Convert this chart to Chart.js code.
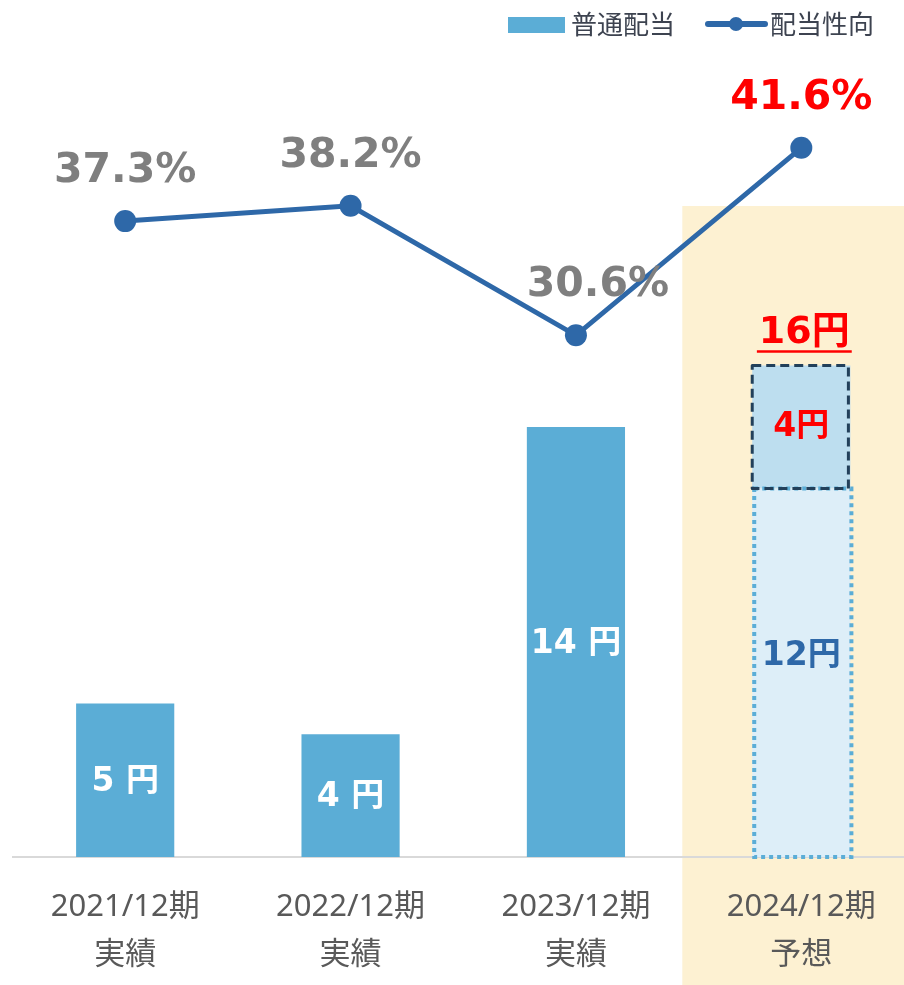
<!DOCTYPE html>
<html><head><meta charset="utf-8">
<script src="https://cdn.jsdelivr.net/npm/chart.js@4"></script>
<style>html,body{margin:0;padding:0;background:#fff;overflow:hidden;width:904px;height:985px}</style>
</head><body>
<canvas id="c" width="925" height="985"></canvas>
<script>
const categories = [["2021/12期","実績"],["2022/12期","実績"],["2023/12期","実績"],["2024/12期","予想"]];
const dividendActual = [5, 4, 14, null];
const dividendForecastBase = [null, null, null, 12];
const dividendForecastAdd = [null, null, null, 4];
const payoutRatio = [37.3, 38.2, 30.6, 41.6];
const barLabels = ["5 円", "4 円", "14 円", "12円"];
const addLabel = "4円";
const totalLabel = "16円";
const payoutLabels = payoutRatio.map(v => v.toFixed(1) + "%");
const legendLabels = ["普通配当", "配当性向"];

const BLUE = '#5BADD6', LINE = '#2E68A8', RED = '#FF0000', GRAY = '#7F7F7F';
const NUMFONT = '"DejaVu Sans","Noto Sans CJK JP",sans-serif';
const JPFONT = '"Noto Sans CJK JP","Noto Sans",sans-serif';

const deco = {
  id: 'deco',
  beforeDraw(chart) {
    const {ctx, scales: {x}} = chart;
    ctx.save();
    ctx.fillStyle = '#fff';
    ctx.fillRect(0, 0, chart.width, chart.height);
    const cx = x.getPixelForValue(3);
    ctx.fillStyle = '#FDF1D2';
    ctx.fillRect(cx - 119, 206, chart.width - (cx - 119), chart.height - 206);
    ctx.restore();
  },
  afterDatasetsDraw(chart) {
    const {ctx} = chart;
    ctx.save();
    const base = chart.getDatasetMeta(1).data[3];
    const add = chart.getDatasetMeta(2).data[3];
    ctx.lineWidth = 4;
    ctx.setLineDash([4, 4]);
    ctx.strokeStyle = BLUE;
    ctx.strokeRect(base.x - base.width/2 + 2, base.y, base.width - 1, base.base - base.y);
    ctx.lineWidth = 3;
    ctx.setLineDash([9, 5]);
    ctx.strokeStyle = '#22405A';
    ctx.lineJoin = 'round';
    ctx.strokeRect(add.x - add.width/2, add.y, add.width - 2, add.base - add.y);
    ctx.setLineDash([]);
    ctx.textAlign = 'center';
    ctx.textBaseline = 'middle';
    const m0 = chart.getDatasetMeta(0);
    for (let i = 0; i < 3; i++) {
      const b = m0.data[i];
      ctx.fillStyle = '#fff';
      ctx.font = 'bold 33px ' + NUMFONT;
      ctx.fillText(barLabels[i], b.x, (b.y + b.base)/2 + 2);
    }
    ctx.fillStyle = LINE;
    ctx.font = 'bold 33px ' + NUMFONT;
    ctx.fillText(barLabels[3], base.x, (base.y + base.base)/2 - 16);
    ctx.fillStyle = RED;
    ctx.fillText(addLabel, add.x, (add.y + add.base)/2);
    ctx.font = 'bold 38px ' + NUMFONT;
    const ty = add.y - 32;
    ctx.fillText(totalLabel, add.x + 3, ty);
    const w = ctx.measureText(totalLabel).width;
    ctx.strokeStyle = RED;
    ctx.lineWidth = 2.5;
    ctx.beginPath();
    ctx.moveTo(add.x + 3 - w/2 - 2, ty + 18);
    ctx.lineTo(add.x + 3 + w/2 + 2, ty + 18);
    ctx.stroke();
    const ml = chart.getDatasetMeta(3);
    ctx.textBaseline = 'alphabetic';
    ctx.font = 'bold 41px ' + NUMFONT;
    ml.data.forEach((p, i) => {
      ctx.fillStyle = i === 3 ? RED : GRAY;
      const dx = i === 2 ? 22 : 0;
      ctx.fillText(payoutLabels[i], p.x + dx, p.y - 39);
    });
    ctx.fillStyle = BLUE;
    ctx.fillRect(508, 17, 57, 16);
    ctx.fillStyle = '#3D4350';
    ctx.font = '26px ' + JPFONT;
    ctx.textAlign = 'left';
    ctx.textBaseline = 'middle';
    ctx.fillText(legendLabels[0], 571, 24);
    ctx.strokeStyle = LINE;
    ctx.lineWidth = 6;
    ctx.lineCap = 'round';
    ctx.beginPath(); ctx.moveTo(708, 24); ctx.lineTo(765, 24); ctx.stroke();
    ctx.fillStyle = LINE;
    ctx.beginPath(); ctx.arc(736, 24, 7, 0, Math.PI*2); ctx.fill();
    ctx.fillStyle = '#3D4350';
    ctx.fillText(legendLabels[1], 770, 24);
    ctx.restore();
  }
};

new Chart(document.getElementById('c'), {
  data: {
    labels: categories,
    datasets: [
      {type: 'bar', label: legendLabels[0], data: dividendActual, backgroundColor: BLUE, yAxisID: 'y', order: 2},
      {type: 'bar', label: 'base', data: dividendForecastBase, backgroundColor: '#DDEEF8', yAxisID: 'y', order: 2},
      {type: 'bar', label: 'add', data: dividendForecastAdd, backgroundColor: '#BDDEEF', yAxisID: 'y', order: 2},
      {type: 'line', label: legendLabels[1], data: payoutRatio, yAxisID: 'y1', borderColor: LINE, backgroundColor: LINE,
       borderWidth: 5, pointRadius: 11, pointBackgroundColor: LINE, pointBorderWidth: 0, order: 0, tension: 0}
    ]
  },
  options: {
    responsive: false,
    animation: false,
    devicePixelRatio: 1,
    layout: {padding: {left: 12.5, right: 0, top: 60, bottom: 0}},
    datasets: {bar: {categoryPercentage: 1, barPercentage: 0.4356}},
    plugins: {legend: {display: false}, tooltip: {enabled: false}},
    scales: {
      x: {stacked: true, offset: true,
          grid: {display: false, drawTicks: false},
          border: {display: true, color: '#D9D9D9', width: 2},
          afterFit(scale) { scale.height = 128; },
          ticks: {font: {family: '"Noto Sans","Noto Sans CJK JP",sans-serif', size: 31, lineHeight: 1.55}, color: '#595959', padding: 26, maxRotation: 0, autoSkip: false}},
      y: {stacked: true, display: false, min: 0, max: 25.95},
      y1: {display: false, min: 0, max: 46.75}
    }
  },
  plugins: [deco]
});
</script>
</body></html>
